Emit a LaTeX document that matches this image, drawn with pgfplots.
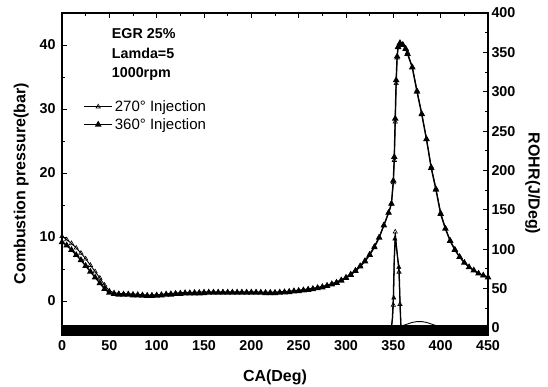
\documentclass[border=0pt]{standalone}
\usepackage{fontspec}
\setmainfont{Liberation Sans}
\usepackage{pgfplots}
\pgfplotsset{compat=1.18}
\begin{document}
\begin{tikzpicture}
\useasboundingbox (-62pt,-52pt) rectangle (486pt,335pt);
\pgfplotsset{
  every axis/.append style={
    scale only axis, width=426pt, height=322pt,
    xmin=0, xmax=450,
    tick align=inside,
    major tick length=5pt, minor tick length=3pt,
    axis line style={line width=1.3pt},
    every tick/.style={line width=1pt, black},
    tick label style={font=\bfseries\fontsize{14.3}{16}\selectfont},
    label style={font=\bfseries\fontsize{16}{18}\selectfont},
    /pgf/number format/assume math mode=true,
  }
}
\begin{axis}[
  ymin=-5.3, ymax=45,
  xtick={0,50,...,450}, minor x tick num=1,
  ytick={0,10,20,30,40}, minor y tick num=1,
  ytick pos=left, xtick pos=both, xticklabel pos=lower,
  yticklabel style={xshift=-3pt},
  xticklabel style={yshift=-2pt},
  xlabel={CA(Deg)}, ylabel={Combustion pressure(bar)},
  xlabel style={at={(ticklabel cs:0.5,12pt)}},
  ylabel style={at={(ticklabel cs:0.47,4pt)}},
  legend style={at={(axis description cs:0.05,0.735)}, anchor=north west,
    draw=none, fill=none, inner sep=0pt, font=\fontsize{15}{17}\selectfont, row sep=1.5pt,
    nodes={inner sep=2pt}},
  legend cell align=left,
  legend image code/.code={\draw[mark repeat=2,mark phase=2,#1] plot coordinates {(0pt,0pt) (14pt,0pt) (28pt,0pt)};},
]
\addplot[black, line width=0.9pt, mark=triangle, mark size=2.5pt, mark options={solid, fill=white, line width=0.6pt}] coordinates {
(0,10.1)(5,9.6)(10,9.0)(15,8.3)(20,7.5)(25,6.6)(30,5.6)(35,4.6)(40,3.6)(45,2.5)
(50,1.6)(55,1.3)(60,1.2)(65,1.15)(70,1.15)(75,1.1)(80,1.05)(85,1.0)(90,0.95)(95,0.95)
(100,1.0)(105,1.05)(110,1.15)(115,1.2)(120,1.25)(125,1.3)(130,1.35)(135,1.35)(140,1.4)(145,1.4)
(150,1.45)(155,1.45)(160,1.45)(165,1.45)(170,1.45)(175,1.45)(180,1.45)(185,1.45)(190,1.45)(195,1.45)
(200,1.45)(205,1.45)(210,1.4)(215,1.4)(220,1.4)(225,1.4)(230,1.45)(235,1.5)(240,1.55)(245,1.65)
(250,1.7)(255,1.8)(260,1.9)(265,2.0)(270,2.15)(275,2.3)(280,2.5)(285,2.75)(290,3.0)(295,3.35)
(300,3.75)(305,4.25)(310,4.85)(315,5.55)(320,6.35)(325,7.35)(330,8.55)(335,10.0)(340,11.9)(345,13.8)
(348,15.2)(350,18.5)(351,22)(352,28)(353,34)(354,38)(355,39.6)(357,40.3)(360,40.1)(363,39.5)
(365,38.8)(370,36.6)(375,32.9)(380,29.3)(385,25.3)(390,21.0)(395,17.6)(400,13.8)(405,11.4)(410,9.5)
(415,8.1)(420,6.9)(425,6.0)(430,5.3)(435,4.8)(440,4.35)(445,4.0)(450,3.75)
};
\addlegendentry{270° Injection}
\addplot[black, line width=1.4pt, mark=triangle*, mark size=2.5pt, mark options={solid}] coordinates {
(0,9.2)(5,8.7)(10,8.0)(15,7.2)(20,6.4)(25,5.5)(30,4.6)(35,3.7)(40,2.8)(45,1.9)
(50,1.3)(55,1.1)(60,1.0)(65,1.0)(70,1.0)(75,0.9)(80,0.9)(85,0.85)(90,0.8)(95,0.8)
(100,0.85)(105,0.9)(110,1.0)(115,1.0)(120,1.1)(125,1.1)(130,1.2)(135,1.2)(140,1.2)(145,1.2)
(150,1.25)(155,1.3)(160,1.3)(165,1.3)(170,1.3)(175,1.3)(180,1.3)(185,1.3)(190,1.3)(195,1.3)
(200,1.3)(205,1.3)(210,1.3)(215,1.25)(220,1.25)(225,1.25)(230,1.3)(235,1.35)(240,1.4)(245,1.5)
(250,1.55)(255,1.65)(260,1.75)(265,1.85)(270,2.0)(275,2.15)(280,2.35)(285,2.6)(290,2.85)(295,3.2)
(300,3.6)(305,4.1)(310,4.7)(315,5.4)(320,6.2)(325,7.2)(330,8.4)(335,9.9)(340,11.8)(345,13.8)
(348,15.2)(350,18.8)(351,22.5)(352,28.5)(353,34.5)(354,38.2)(355,39.7)(357,40.3)(360,40.0)(363,39.4)
(365,38.6)(370,36.5)(375,32.7)(380,29.2)(385,25.3)(390,20.8)(395,17.4)(400,13.6)(405,11.3)(410,9.4)
(415,8.0)(420,6.9)(425,6.0)(430,5.3)(435,4.8)(440,4.3)(445,4.0)(450,3.7)
};
\addlegendentry{360° Injection}
\node[anchor=north west, align=left, font=\bfseries\fontsize{14.3}{19.5}\selectfont, inner sep=0pt] at (axis cs:52.5,42.6) {EGR 25\%\\Lamda=5\\1000rpm};
\end{axis}
\begin{axis}[
  ymin=-9, ymax=400,
  axis y line*=right, axis x line=none,
  ytick={0,50,...,400}, minor y tick num=1,
  ylabel={ROHR(J/Deg)},
  ylabel style={rotate=180, at={(ticklabel cs:0.47,3pt)}},
]
% ROHR, 360 deg injection: noisy trace near zero (drawn as a band)
\addplot[black, line width=10pt] coordinates {
(0,-2.8)(50,-2.8)(100,-2.8)(150,-2.8)(200,-2.8)(250,-2.8)(300,-2.8)(347,-2.8)
(360,-2.8)(400,-2.8)(450,-2.8)
};
% ROHR, 270 deg injection: trace near zero
\addplot[black, line width=1pt] coordinates {
(0,1)(50,1)(100,1)(150,1)(200,1)(250,1)(300,1)(345,1)
};
\addplot[black, line width=0.9pt] coordinates {
(345,1)(348,1)(349,10)(350,29)(351,80)(352,122)(353,110)(354,95)(355,82)(356,71)(357,30)(358,3)
(360,3)(365,5)(370,7)(375,8)(380,8)(385,7)(390,5)(395,3)(400,1)(410,1)(420,1)
(430,1)(440,1)(450,1)
};
\addplot[black, line width=1.3pt] coordinates {
(347,1)(348,1)(349,12)(350,38)(351,90)(352,113)(353,105)(354,95)(355,85)(356,77)(357,35)(358,2)
(362,1)(400,1)(450,1)
};
\addplot[black, only marks, mark=triangle, mark size=2.5pt, mark options={fill=white, line width=0.6pt}] coordinates {
(350,29)(352,122)(356,71)(357,30)
};
\addplot[black, only marks, mark=triangle*, mark size=2.5pt] coordinates {
(350.5,38)(351.6,113)(355.8,77)
};
\end{axis}
\end{tikzpicture}
\end{document}
